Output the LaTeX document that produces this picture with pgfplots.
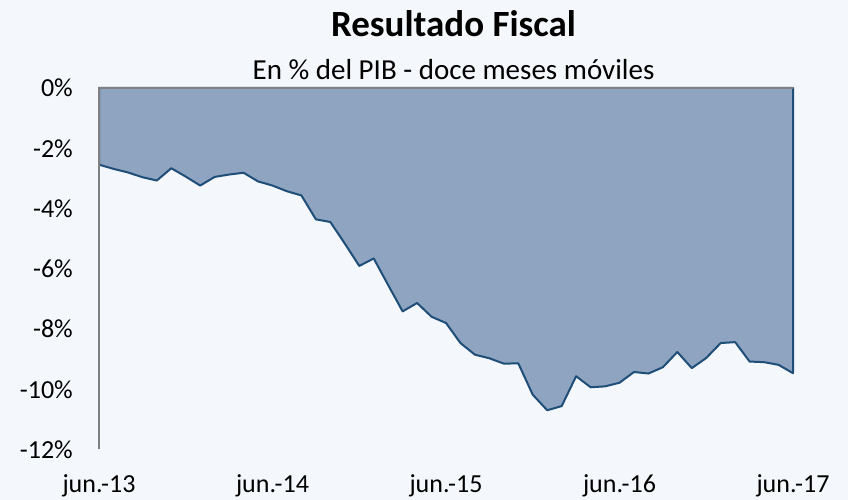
\documentclass[border=0pt]{standalone}
\usepackage{fontspec}
\setmainfont{Carlito}
\usepackage{pgfplots}
\pgfplotsset{compat=1.18}
\definecolor{bg}{HTML}{F4F7FC}
\definecolor{areafill}{HTML}{8EA4C0}
\definecolor{arealine}{HTML}{1F4E79}
\definecolor{axgray}{HTML}{808080}
\begin{document}
\begin{tikzpicture}[x=1pt,y=1pt]
\fill[bg] (0,0) rectangle (848,500);
\node[anchor=base, font=\bfseries\fontsize{37}{42}\selectfont, inner sep=0pt] at (453.5,463.3) {Resultado Fiscal};
\node[anchor=base, font=\fontsize{29}{34}\selectfont, inner sep=0pt] at (453.5,420) {En \% del PIB - doce meses móviles};
\begin{axis}[
  at={(99pt,50.5pt)}, anchor=south west,
  scale only axis, width=694pt, height=361.5pt,
  xmin=0, xmax=48, ymin=-12, ymax=0,
  axis line style={draw=none},
  tick style={draw=none},
  xtick={0,12,24,36,48},
  xticklabels={jun.-13,jun.-14,jun.-15,jun.-16,jun.-17},
  ytick={-12,-10,-8,-6,-4,-2,0},
  yticklabels={-12\%,-10\%,-8\%,-6\%,-4\%,-2\%,0\%},
  xticklabel style={font=\fontsize{26}{30}\selectfont, anchor=base, inner sep=0pt, yshift=-43.5pt},
  yticklabel style={font=\fontsize{26}{30}\selectfont, anchor=east, inner sep=0pt, xshift=-26pt},
  clip=false,
]
\addplot[fill=areafill, draw=arealine, line width=2pt, line join=round] coordinates {
(0,0)
(0,-2.545) (1,-2.684) (2,-2.803) (3,-2.962) (4,-3.071) (5,-2.664) (6,-2.942) (7,-3.239)
(8,-2.952) (9,-2.873) (10,-2.813) (11,-3.101) (12,-3.239) (13,-3.428) (14,-3.567) (15,-4.360)
(16,-4.449) (17,-5.163) (18,-5.907) (19,-5.659) (20,-6.542) (21,-7.415) (22,-7.137) (23,-7.593)
(24,-7.801) (25,-8.466) (26,-8.853) (27,-8.972) (28,-9.150) (29,-9.140) (30,-10.182) (31,-10.697)
(32,-10.559) (33,-9.567) (34,-9.934) (35,-9.904) (36,-9.785) (37,-9.428) (38,-9.478) (39,-9.269)
(40,-8.764) (41,-9.299) (42,-8.962) (43,-8.466) (44,-8.436) (45,-9.081) (46,-9.101) (47,-9.190)
(48,-9.467)
(48,0)
} -- cycle;
\draw[axgray, line width=1.8pt] (axis cs:0,0) -- (axis cs:48,0);
\draw[axgray, line width=1.8pt] (axis cs:0,0) -- (axis cs:0,-12);
\end{axis}
\end{tikzpicture}
\end{document}
